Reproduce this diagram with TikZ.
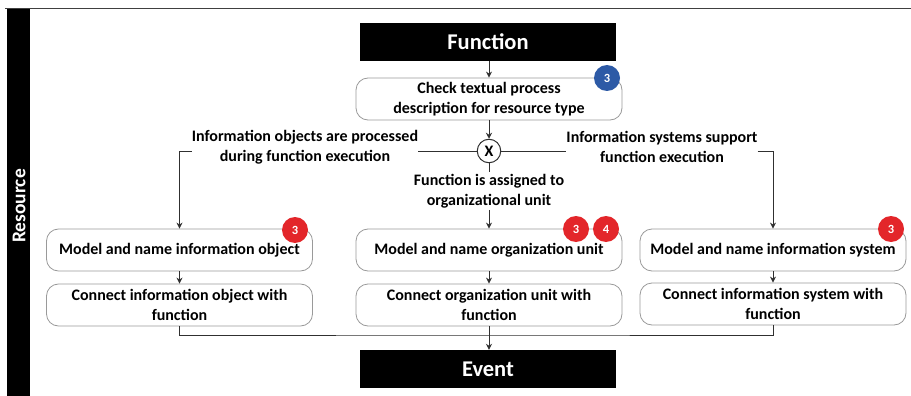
\documentclass[tikz,border=0pt]{standalone}
\usepackage{fontspec}
\setmainfont{Carlito}
\usetikzlibrary{arrows.meta,calc}
\definecolor{badgered}{HTML}{E3262A}
\definecolor{badgeblue}{HTML}{2D5AA6}
\definecolor{boxline}{HTML}{9A9A9A}
\definecolor{conn}{HTML}{303030}
\tikzset{
  txt/.style={font=\fontsize{16}{19.5}\selectfont\bfseries, align=center},
  stepbox/.style={txt, draw=boxline, line width=0.8pt, fill=white, rounded corners=12pt,
    minimum width=266pt, minimum height=42pt, inner sep=2pt},
  blackbox/.style={fill=black, text=white, font=\fontsize{22.5}{26}\selectfont\bfseries,
    minimum width=256pt, minimum height=38pt, inner sep=0pt},
  badge/.style={circle, fill=#1, text=white, font=\fontsize{12.5}{13}\selectfont\bfseries,
    minimum size=26pt, inner sep=0pt},
  lbl/.style={txt, inner sep=0pt},
  xor/.style={circle, draw=conn, line width=1pt, fill=white, minimum size=23.5pt, inner sep=0pt,
    font=\fontsize{16}{17}\selectfont\bfseries},
  conn/.style={draw=conn, line width=1pt},
  arr/.style={conn, -{Stealth[length=6pt,width=6pt]}},
}
\begin{document}
\begin{tikzpicture}[x=1pt,y=-1pt]
\useasboundingbox (0,0) rectangle (911,396);
% frame
\draw[draw=black!75, line width=1.3pt] (5,8.5) -- (911,8.5);
\fill[black] (7,9) rectangle (30,396);
\node[rotate=90, text=white, font=\fontsize{19.5}{21}\selectfont\bfseries] (res) at (19,206) {Resource};

% nodes
\node[blackbox] (fn) at (488,42) {Function};
\node[stepbox] (check) at (489,99) {Check textual process\\description for resource type};
\node[badge=badgeblue] (b0) at (607,78) {3};
\node[xor] (x) at (489,151) {X};

\node[lbl] (lblL) at (305,147) {Information objects are processed\\during function execution};
\node[lbl] (lblR) at (662,147) {Information systems support\\function execution};
\node[lbl, inner sep=2pt] (lblB) at (489,191) {Function is assigned to\\organizational unit};

\node[stepbox] (m1) at (179.5,250) {Model and name information object};
\node[stepbox] (m2) at (489,250) {Model and name organization unit};
\node[stepbox] (m3) at (773,250) {Model and name information system};

\node[stepbox] (c1) at (179.5,305) {Connect information object with\\function};
\node[stepbox] (c2) at (489,305) {Connect organization unit with\\function};
\node[stepbox] (c3) at (773,304) {Connect information system with\\function};

\node[badge=badgered] (b1) at (295,230) {3};
\node[badge=badgered] (b2) at (576,229) {3};
\node[badge=badgered] (b3) at (606,229) {4};
\node[badge=badgered] (b4) at (891,229) {3};

\node[blackbox] (ev) at (488,369) {Event};
\coordinate (j) at (489,335);

% connectors
\draw[arr] (fn.south -| check.north) -- (check.north);
\draw[arr] (check.south) -- (x.north);
\draw[conn] (x.west) -- (x.west -| lblL.east);
\draw[arr] (x.west -| lblL.west) -| (m1.north);
\draw[conn] (x.east) -- (x.east -| lblR.west);
\draw[arr] (x.east -| lblR.east) -| (m3.north);
\draw[conn] (x.south) -- (lblB.north);
\draw[arr] (lblB.south) -- (m2.north);

\draw[arr] (m1.south) -- (c1.north);
\draw[arr] (m2.south) -- (c2.north);
\draw[arr] (m3.south) -- (c3.north);

\draw[conn] (c1.south) |- (j) -| (c3.south);
\draw[arr] (c2.south) -- (ev.north -| c2.south);
\end{tikzpicture}
\end{document}
